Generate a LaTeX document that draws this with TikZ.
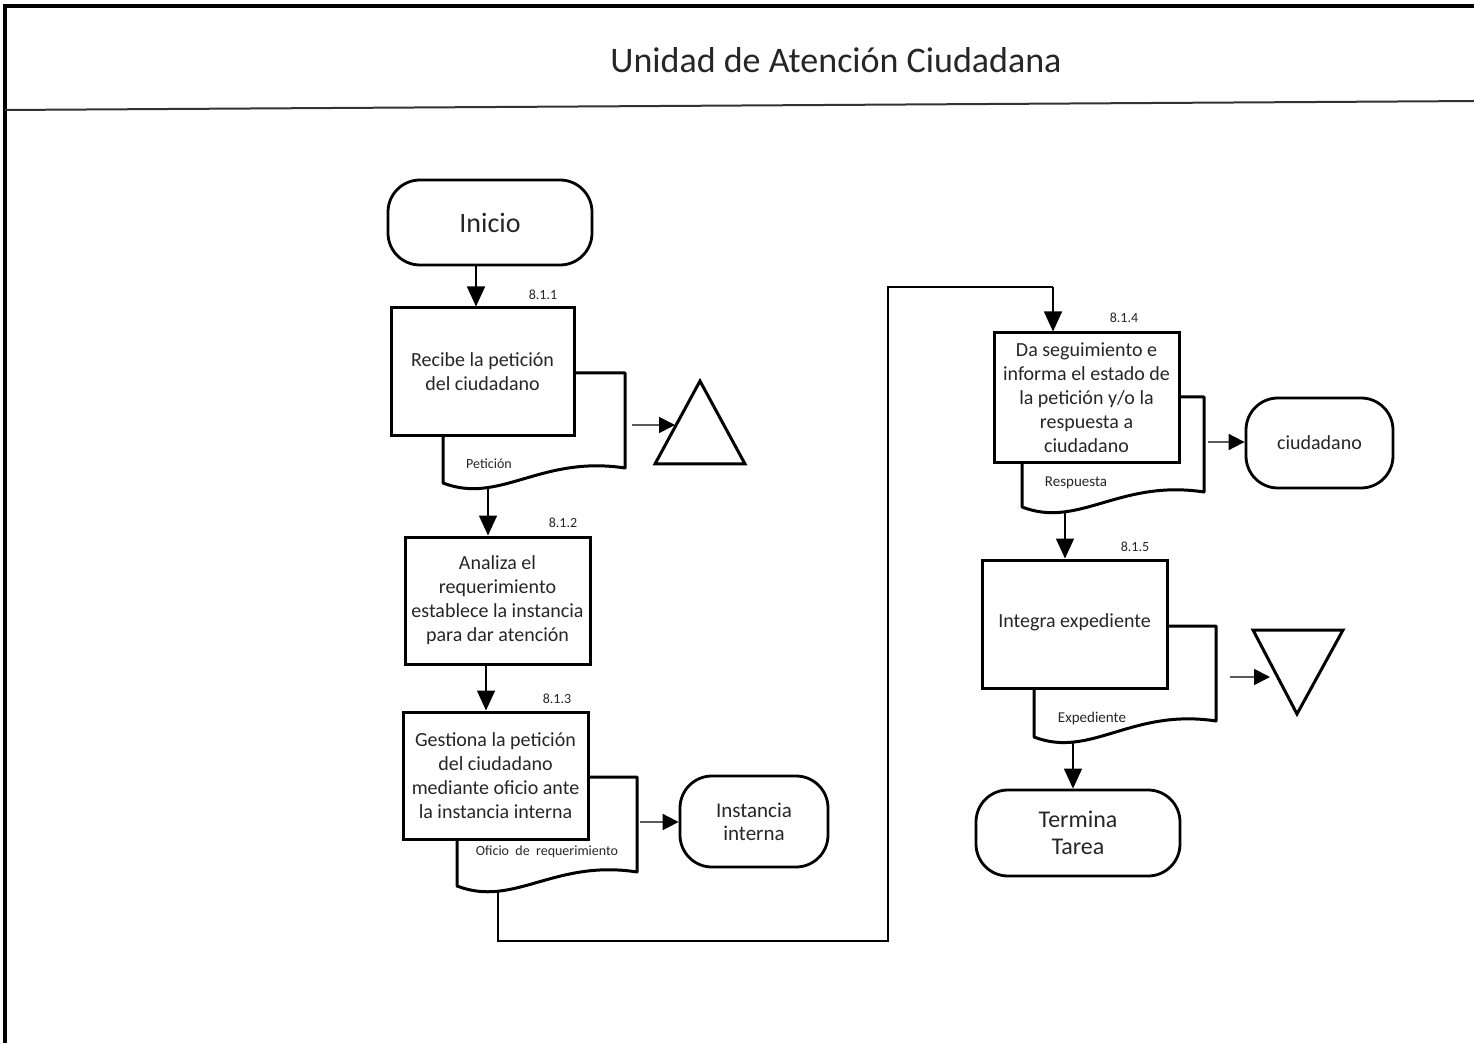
\documentclass[tikz,border=0pt]{standalone}
\usepackage{fontspec}
\setmainfont{Carlito}
\usetikzlibrary{arrows.meta,calc}
\newcommand\mydoc[5]{\path[docline] (#1,#2) -- (#3,#2) -- (#3,#4) .. controls ({#1+97},{#4-13}) and ({#1+57},{#5+22}) .. (#1,#5) -- cycle;}
\begin{document}
\begin{tikzpicture}[x=0.5pt,y=-0.5pt,
 every node/.style={text=black!85},
 proc/.style={draw=black, line width=1.5pt, fill=white, align=center, inner sep=0pt, font=\fontsize{10}{12}\selectfont},
 term/.style={draw=black, line width=1.4pt, fill=white, rounded corners=16pt, align=center, inner sep=0pt},
 docline/.style={draw, line width=1.5pt, fill=white, line join=round},
 doctext/.style={font=\fontsize{7}{8}\selectfont, inner sep=0pt},
 steplbl/.style={font=\fontsize{7}{8}\selectfont, inner sep=0pt},
 arrv/.style={line width=0.8pt, -{Triangle[length=10pt,width=9pt]}},
 arrh/.style={line width=0.9pt, draw=black!65, -{Triangle[length=8pt,width=8pt,color=black]}},
 flow/.style={line width=0.6pt},
 tri/.style={draw, line width=1.5pt, line join=miter, fill=white}
]
\path[use as bounding box, fill=white] (0,0) rectangle (1474,1043);
% frame
\draw[line width=1.8pt] (5,1050) -- (5,6) -- (1480,6);
\draw[line width=1pt, black!80] (5,110) -- (1480,101);
\node[font=\fontsize{18}{20}\selectfont] (title) at (836,60) {Unidad de Atención Ciudadana};

% start
\node[term, minimum width=102pt, minimum height=42.5pt, font=\fontsize{14}{16}\selectfont] (inicio) at (490,222.5) {\raisebox{-2pt}{Inicio}};

% step 8.1.1
\mydoc{443}{373}{625}{468}{483}
\node[doctext] (d1t) at (489,464) {Petición};
\coordinate (d1b) at (488,489);
\coordinate (d1r) at (632,425);
\node[proc, minimum width=91.5pt, minimum height=64pt] (b1) at (482.5,372) {Recibe la petición\\del ciudadano};
\node[steplbl] (s1) at (543,295) {8.1.1};
\draw[tri] (700,381) -- (745,464) -- (655,464) -- cycle;
\coordinate (t1) at (675,425);

% step 8.1.2
\node[proc, minimum width=92.5pt, minimum height=63.5pt] (b2) at (497.5,600.5) {Analiza el\\requerimiento\\establece la instancia\\para dar atención};
\node[steplbl] (s2) at (563,523) {8.1.2};

% step 8.1.3
\mydoc{457}{777}{637}{872}{886}
\node[doctext] (d3t) at (547,852) {Oficio\ \ de\ \ requerimiento};
\coordinate (d3b) at (498,892);
\coordinate (d3r) at (640,822);
\node[proc, minimum width=92.5pt, minimum height=63.5pt] (b3) at (495.5,775.5) {Gestiona la petición\\del ciudadano\\mediante oficio ante\\la instancia interna};
\node[steplbl] (s3) at (557,699) {8.1.3};
\node[term, minimum width=74pt, minimum height=45.5pt, font=\fontsize{10.5}{11.5}\selectfont] (inst) at (754,821.5) {Instancia\\interna};

% step 8.1.4
\mydoc{1022}{397}{1204}{492}{507}
\node[doctext, font=\fontsize{7.5}{8}\selectfont] (d4t) at (1076,483) {Respuesta};
\coordinate (d4b) at (1065,513);
\coordinate (d4r) at (1208,442);
\node[proc, minimum width=92.5pt, minimum height=65pt] (b4) at (1086.5,398) {Da seguimiento e\\informa el estado de\\la petición y/o la\\respuesta a\\ciudadano};
\node[steplbl] (s4) at (1124,318) {8.1.4};
\node[term, minimum width=73.5pt, minimum height=45pt, font=\fontsize{10}{11}\selectfont] (ciud) at (1319.5,443) {ciudadano};

% step 8.1.5
\mydoc{1034}{626}{1216}{721}{737}
\node[doctext, font=\fontsize{7.5}{8}\selectfont] (d5t) at (1092,718) {Expediente};
\coordinate (d5b) at (1073,743);
\coordinate (d5r) at (1230,677);
\node[proc, minimum width=92.5pt, minimum height=64pt] (b5) at (1074.5,624) {\raisebox{3pt}{Integra expediente}};
\node[steplbl] (s5) at (1135,547) {8.1.5};
\draw[tri] (1253,630) -- (1343,630) -- (1297,714) -- cycle;
\coordinate (t2) at (1270,677);

% end
\node[term, minimum width=102pt, minimum height=43pt, font=\fontsize{12}{13.5}\selectfont] (fin) at (1078,833) {Termina\\Tarea};

% connectors
\draw[arrv] ([xshift=-7pt]inicio.south) -- ([xshift=-7pt]inicio.south |- b1.north);
\draw[arrv] (d1b) -- (d1b |- b2.north);
\draw[arrv] ([xshift=-5.75pt]b2.south) -- ([xshift=-5.75pt]b2.south |- b3.north);
\coordinate (r1) at (888,941);
\coordinate (r2) at (1053,287);
\draw[flow] (d3b) |- (r1) |- (r2);
\draw[arrv] (r2) -- (r2 |- b4.north);
\draw[arrv] (d4b) -- (d4b |- b5.north);
\draw[arrv] (d5b) -- (d5b |- fin.north);
\draw[arrh] (d1r) -- (t1);
\draw[arrh] (d3r) -- (d3r -| inst.west);
\draw[arrh] (d4r) -- (d4r -| ciud.west);
\draw[arrh] (d5r) -- (t2);
\end{tikzpicture}
\end{document}
